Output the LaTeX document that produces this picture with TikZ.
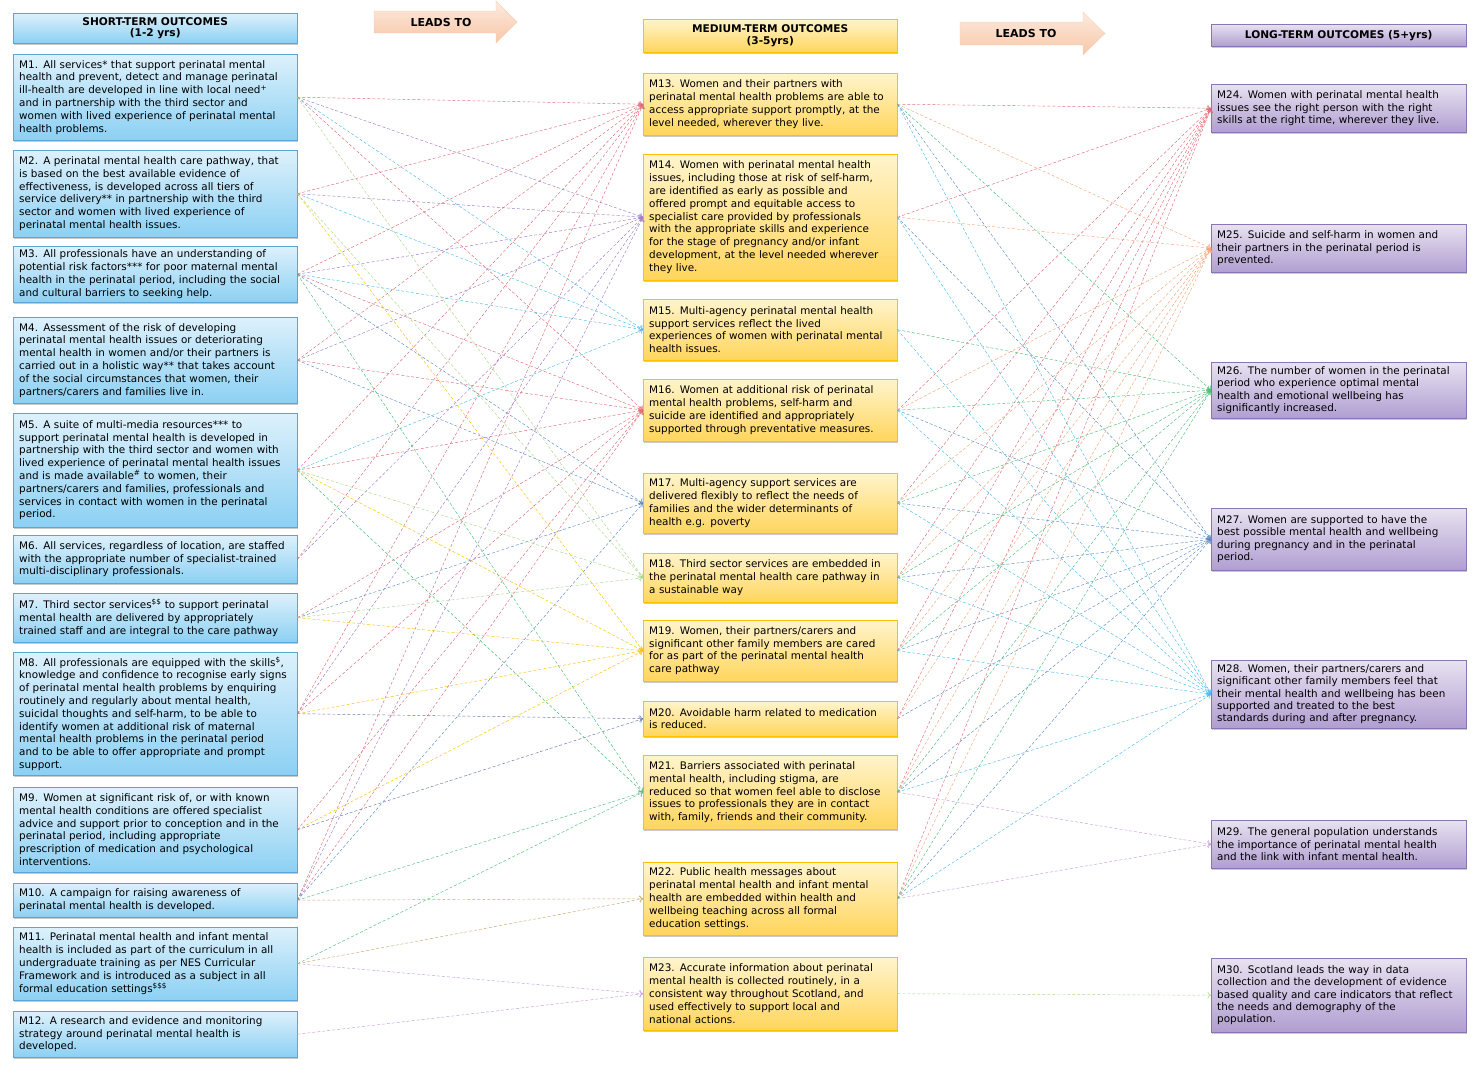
\documentclass[tikz,border=0pt]{standalone}
\usepackage{fontspec}
\setmainfont{DejaVu Sans}
\usetikzlibrary{shadows,arrows.meta}

\definecolor{shorttop}{HTML}{DDF1FC}
\definecolor{shortbot}{HTML}{8CD0F3}
\definecolor{shortline}{HTML}{5BA6D6}
\definecolor{midtop}{HTML}{FFF4CC}
\definecolor{midbot}{HTML}{FFD55C}
\definecolor{midline}{HTML}{FFC000}
\definecolor{longtop}{HTML}{E8E2F1}
\definecolor{longbot}{HTML}{B09ED1}
\definecolor{longline}{HTML}{8A76B4}
\definecolor{leadtop}{HTML}{FDEADF}
\definecolor{leadbot}{HTML}{F7C7A6}

\definecolor{lnred}{HTML}{E06A74}
\definecolor{lnpurple}{HTML}{9B7BCB}
\definecolor{lnblue}{HTML}{4DBBF0}
\definecolor{lnsteel}{HTML}{5A8CC6}
\definecolor{lnlime}{HTML}{A9D68A}
\definecolor{lnyellow}{HTML}{FFBF00}
\definecolor{lnslate}{HTML}{6C74A8}
\definecolor{lngreen}{HTML}{4CBF78}
\definecolor{lntan}{HTML}{C9A46C}
\definecolor{lnlilac}{HTML}{C79BDB}
\definecolor{lnpeach}{HTML}{F5A57A}

\tikzset{
    outbox/.style={anchor=north west, align=left, inner xsep=6pt, inner ysep=2pt,
        font=\fontsize{10.4}{12.8}\selectfont,
        drop shadow={shadow xshift=0.6pt, shadow yshift=-2pt, opacity=0.35, fill=black!60}},
    shortbox/.style={outbox, draw=shortline, top color=shorttop, bottom color=shortbot, text width=272pt},
    midbox/.style={outbox, draw=midline, top color=midtop, bottom color=midbot, text width=242pt},
    longbox/.style={outbox, draw=longline, top color=longtop, bottom color=longbot, text width=243pt,
        font=\fontsize{10.4}{12.2}\selectfont},
    headtext/.style={align=center, font=\fontsize{10.6}{11.5}\selectfont\bfseries},
    leadarrow/.style={top color=leadtop, bottom color=leadbot, draw=leadbot!80!white},
    leadtext/.style={font=\fontsize{11}{12}\selectfont\bfseries},
    link/.style={densely dashed, line width=0.45pt, -{To[length=3.5pt,width=7pt]}},
}

\begin{document}
\begin{tikzpicture}[x=1pt, y=-1pt]
    \useasboundingbox (0,0) rectangle (1476,1069);

    % column headers
    \node[shortbox, headtext, minimum height=30pt] (hs) at (13,13) {SHORT-TERM OUTCOMES\\(1-2 yrs)};
    \node[midbox, headtext, minimum height=33pt] (hm) at (643,19) {MEDIUM-TERM OUTCOMES\\(3-5yrs)};
    \node[longbox, headtext, minimum height=22pt] (hl) at (1211,24) {LONG-TERM OUTCOMES (5+yrs)};

    \shade[leadarrow] (374,11) -- (496,11) -- (496,1) -- (517,22) -- (496,43) -- (496,33) -- (374,33) -- cycle;
    \node[leadtext] (lead1) at (441,22) {LEADS TO};
    \shade[leadarrow] (960,22) -- (1083,22) -- (1083,12) -- (1105,33.5) -- (1083,55) -- (1083,45) -- (960,45) -- cycle;
    \node[leadtext] (lead2) at (1026,33.5) {LEADS TO};

    % short-term outcomes
    \node[shortbox, minimum height=86pt] (m1) at (13,54) {M1. All services* that support perinatal mental\\health and prevent, detect and manage perinatal\\ill-health are developed in line with local need\textsuperscript{+}\\and in partnership with the third sector and\\women with lived experience of perinatal mental\\health problems.};
    \node[shortbox, minimum height=87pt] (m2) at (13,150) {M2. A perinatal mental health care pathway, that\\is based on the best available evidence of\\effectiveness, is developed across all tiers of\\service delivery** in partnership with the third\\sector and women with lived experience of\\perinatal mental health issues.};
    \node[shortbox, minimum height=56pt] (m3) at (13,246) {M3. All professionals have an understanding of\\potential risk factors*** for poor maternal mental\\health in the perinatal period, including the social\\and cultural barriers to seeking help.};
    \node[shortbox, minimum height=86pt] (m4) at (13,317) {M4. Assessment of the risk of developing\\perinatal mental health issues or deteriorating\\mental health in women and/or their partners is\\carried out in a holistic way**  that takes account\\of the social circumstances that women, their\\partners/carers and families live in.};
    \node[shortbox, minimum height=114pt] (m5) at (13,413) {M5. A suite of multi-media resources*** to\\support perinatal mental health is developed in\\partnership with the third sector and women with\\lived experience of perinatal mental health issues\\and is made available\textsuperscript{\#} to women, their\\partners/carers and families, professionals and\\services in contact with women in the perinatal\\period.};
    \node[shortbox, minimum height=48pt] (m6) at (13,535) {M6. All services, regardless of location, are staffed\\with the appropriate number of specialist-trained\\multi-disciplinary professionals.};
    \node[shortbox, minimum height=49pt] (m7) at (13,593) {M7. Third sector services\textsuperscript{\$\$} to support perinatal\\mental health are delivered by appropriately\\trained staff and are integral to the care pathway};
    \node[shortbox, minimum height=123pt] (m8) at (13,652) {M8. All professionals are equipped with the skills\textsuperscript{\$},\\knowledge and confidence to recognise early signs\\of perinatal mental health problems by enquiring\\routinely and regularly about mental health,\\suicidal thoughts and self-harm, to be able to\\identify women at additional risk of maternal\\mental health problems in the perinatal period\\and to be able to offer appropriate and prompt\\support.};
    \node[shortbox, minimum height=85pt] (m9) at (13,787) {M9. Women at significant risk of, or with known\\mental health conditions are offered specialist\\advice and support prior to conception and in the\\perinatal period, including appropriate\\prescription of medication and psychological\\interventions.};
    \node[shortbox, minimum height=34pt] (m10) at (13,883) {M10. A campaign for raising awareness of\\perinatal mental health is developed.};
    \node[shortbox, minimum height=73pt] (m11) at (13,927) {M11. Perinatal mental health and infant mental\\health is included as part of the curriculum in all\\undergraduate training as per NES Curricular\\Framework  and is introduced as a subject in all\\formal education settings\textsuperscript{\$\$\$}};
    \node[shortbox, minimum height=46pt] (m12) at (13,1011) {M12. A research and evidence and monitoring\\strategy around perinatal mental health is\\developed.};

    % medium-term outcomes
    \node[midbox, minimum height=62pt] (m13) at (643,73) {M13. Women and their partners with\\perinatal mental health problems are able to\\access appropriate support promptly, at the\\level needed, wherever they live.};
    \node[midbox, minimum height=126pt] (m14) at (643,154) {M14. Women with perinatal mental health\\issues, including those at risk of self-harm,\\are identified as early as possible and\\offered prompt and equitable access to\\specialist care provided by professionals\\with the appropriate skills and experience\\for the stage of pregnancy and/or infant\\development, at the level needed wherever\\they live.};
    \node[midbox, minimum height=61pt] (m15) at (643,299) {M15. Multi-agency perinatal mental health\\support services reflect the lived\\experiences of women with perinatal mental\\health issues.};
    \node[midbox, minimum height=62pt] (m16) at (643,379) {M16. Women at additional risk of perinatal\\mental health problems, self-harm and\\suicide are identified and appropriately\\supported through preventative measures.};
    \node[midbox, minimum height=60pt] (m17) at (643,473) {M17. Multi-agency support services are\\delivered flexibly to reflect the needs of\\families and the wider determinants of\\health e.g. poverty};
    \node[midbox, minimum height=49pt] (m18) at (643,553) {M18. Third sector services are embedded in\\the perinatal mental health care pathway in\\a sustainable way};
    \node[midbox, minimum height=61pt] (m19) at (643,620) {M19. Women, their partners/carers and\\significant other family members are cared\\for as part of the perinatal mental health\\care pathway};
    \node[midbox, minimum height=35pt] (m20) at (643,701) {M20. Avoidable harm related to medication\\is reduced.};
    \node[midbox, minimum height=74pt] (m21) at (643,755) {M21. Barriers associated with perinatal\\mental health, including stigma, are\\reduced so that women feel able to disclose\\issues to professionals they are in contact\\with, family, friends and their community.};
    \node[midbox, minimum height=73pt] (m22) at (643,862) {M22. Public health messages about\\perinatal mental health and infant mental\\health are embedded within health and\\wellbeing teaching across all formal\\education settings.};
    \node[midbox, minimum height=73pt] (m23) at (643,957) {M23. Accurate information about  perinatal\\mental health is collected routinely, in a\\consistent way throughout Scotland, and\\used effectively to support local and\\national actions.};

    % long-term outcomes
    \node[longbox, minimum height=48pt] (m24) at (1211,84) {M24. Women with perinatal mental health\\issues see the right person with the right\\skills at the right time, wherever they live.};
    \node[longbox, minimum height=48pt] (m25) at (1211,224) {M25. Suicide and self-harm in women and\\their partners in the perinatal period is\\prevented.};
    \node[longbox, minimum height=56pt] (m26) at (1211,362) {M26. The number of women in the perinatal\\period who experience optimal mental\\health and emotional wellbeing has\\significantly increased.};
    \node[longbox, minimum height=62pt] (m27) at (1211,508) {M27. Women are supported to have the\\best possible mental health and wellbeing\\during pregnancy and in the perinatal\\period.};
    \node[longbox, minimum height=68pt] (m28) at (1211,660) {M28. Women, their partners/carers and\\significant other family members feel that\\their mental health and wellbeing has been\\supported and treated to the best\\standards during and after pregnancy.};
    \node[longbox, minimum height=48pt] (m29) at (1211,820) {M29. The general population understands\\the importance of perinatal mental health\\and the link with infant mental health.};
    \node[longbox, minimum height=74pt] (m30) at (1211,958) {M30. Scotland leads the way in data\\collection and the development of evidence\\based quality and care indicators that reflect\\the needs and demography of the\\population.};

    % short-term -> medium-term
    \path[link, lnred] (m1.east) edge (m13.west) (m2.east) edge (m13.west) (m3.east) edge (m13.west) (m4.east) edge (m13.west)
        (m5.east) edge (m13.west) (m6.east) edge (m13.west) (m8.east) edge (m13.west) (m10.east) edge (m13.west);
    \path[link, lnpurple] (m1.east) edge (m14.west) (m2.east) edge (m14.west) (m3.east) edge (m14.west) (m4.east) edge (m14.west)
        (m6.east) edge (m14.west) (m8.east) edge (m14.west) (m10.east) edge (m14.west);
    \path[link, lnblue] (m1.east) edge (m15.west) (m2.east) edge (m15.west) (m3.east) edge (m15.west) (m5.east) edge (m15.west);
    \path[link, lnred] (m1.east) edge (m16.west) (m3.east) edge (m16.west) (m4.east) edge (m16.west) (m5.east) edge (m16.west)
        (m7.east) edge (m16.west) (m8.east) edge (m16.west) (m9.east) edge (m16.west) (m10.east) edge (m16.west);
    \path[link, lnsteel] (m3.east) edge (m17.west) (m4.east) edge (m17.west) (m7.east) edge (m17.west) (m10.east) edge (m17.west);
    \path[link, lnlime] (m1.east) edge (m18.west) (m2.east) edge (m18.west) (m5.east) edge (m18.west) (m7.east) edge (m18.west);
    \path[link, lnyellow] (m2.east) edge (m19.west) (m5.east) edge (m19.west) (m7.east) edge (m19.west) (m8.east) edge (m19.west)
        (m9.east) edge (m19.west);
    \path[link, lnslate] (m8.east) edge (m20.west) (m9.east) edge (m20.west);
    \path[link, lngreen] (m3.east) edge (m21.west) (m5.east) edge (m21.west) (m10.east) edge (m21.west) (m11.east) edge (m21.west);
    \path[link, lntan] (m10.east) edge (m22.west) (m11.east) edge (m22.west);
    \path[link, lnlilac] (m11.east) edge (m23.west) (m12.east) edge (m23.west);

    % medium-term -> long-term
    \path[link, lnred] (m13.east) edge (m24.west) (m14.east) edge (m24.west) (m16.east) edge (m24.west) (m17.east) edge (m24.west)
        (m18.east) edge (m24.west) (m19.east) edge (m24.west) (m20.east) edge (m24.west) (m21.east) edge (m24.west) (m22.east) edge (m24.west);
    \path[link, lnpeach] (m13.east) edge (m25.west) (m14.east) edge (m25.west) (m16.east) edge (m25.west) (m17.east) edge (m25.west)
        (m18.east) edge (m25.west) (m19.east) edge (m25.west) (m20.east) edge (m25.west) (m21.east) edge (m25.west) (m22.east) edge (m25.west);
    \path[link, lngreen] (m13.east) edge (m26.west) (m15.east) edge (m26.west) (m16.east) edge (m26.west) (m17.east) edge (m26.west)
        (m18.east) edge (m26.west) (m19.east) edge (m26.west) (m21.east) edge (m26.west) (m22.east) edge (m26.west);
    \path[link, lnsteel] (m13.east) edge (m27.west) (m14.east) edge (m27.west) (m16.east) edge (m27.west) (m17.east) edge (m27.west)
        (m18.east) edge (m27.west) (m19.east) edge (m27.west) (m20.east) edge (m27.west) (m21.east) edge (m27.west) (m22.east) edge (m27.west);
    \path[link, lnblue] (m13.east) edge (m28.west) (m14.east) edge (m28.west) (m15.east) edge (m28.west) (m16.east) edge (m28.west)
        (m17.east) edge (m28.west) (m18.east) edge (m28.west) (m19.east) edge (m28.west) (m21.east) edge (m28.west) (m22.east) edge (m28.west);
    \path[link, lnlilac] (m21.east) edge (m29.west) (m22.east) edge (m29.west);
    \path[link, lnlime] (m23.east) edge (m30.west);
\end{tikzpicture}
\end{document}
